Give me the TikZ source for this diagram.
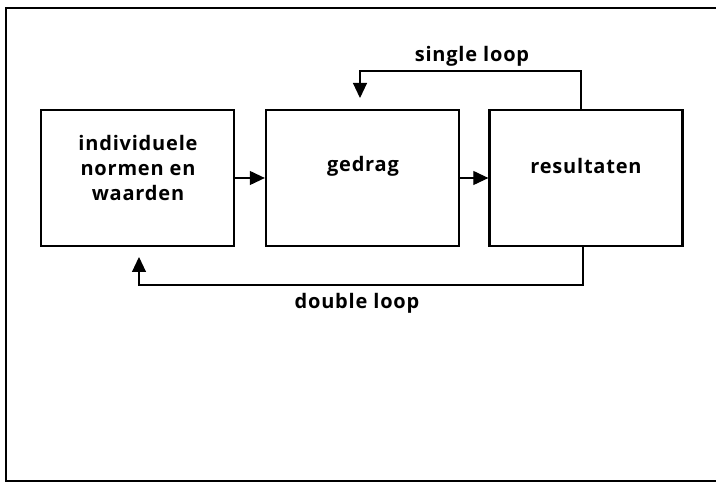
\documentclass[tikz,border=0pt]{standalone}
\usepackage{fontspec}
\setmainfont{Open Sans}[LetterSpace=4]
\usetikzlibrary{arrows.meta}
\begin{document}
\begin{tikzpicture}[x=1pt,y=-1pt,
  box/.style={draw,line width=2.3pt,minimum width=193pt,minimum height=136pt,inner sep=0pt},
  lbl/.style={font=\bfseries\fontsize{20}{25}\selectfont,align=center,inner sep=0pt},
  conn/.style={line width=1.1pt,-{Triangle[length=15pt,width=14pt]}}]
\useasboundingbox (0,0) rectangle (716,486);
\draw[line width=1.3pt] (716,8) -- (6,8) -- (6,481) -- (716,481);
\node[box] (b1) at (137.5,178) {};
\node[box] (b2) at (362.5,178) {};
\node[box] (b3) at (586,178) {};
\node[lbl] (t1) at (138,168) {individuele\\normen en\\waarden};
\node[lbl] (t2) at (363,166) {gedrag};
\node[lbl] (t3) at (586,166) {resultaten};
\node[lbl] (sl) at (472,56) {single loop};
\node[lbl] (dl) at (357,303) {double loop};
\coordinate (slend) at (360,98);
\coordinate (dlend) at (139,257);
\draw[conn] (b1.east) -- (b2.west);
\draw[conn] (b2.east) -- (b3.west);
\draw[conn] (b3.north -| 581,0) -- (581,71) -- (360,71) -- (slend);
\draw[conn] (b3.south -| 583,0) -- (583,285) -- (139,285) -- (dlend);
\end{tikzpicture}
\end{document}
